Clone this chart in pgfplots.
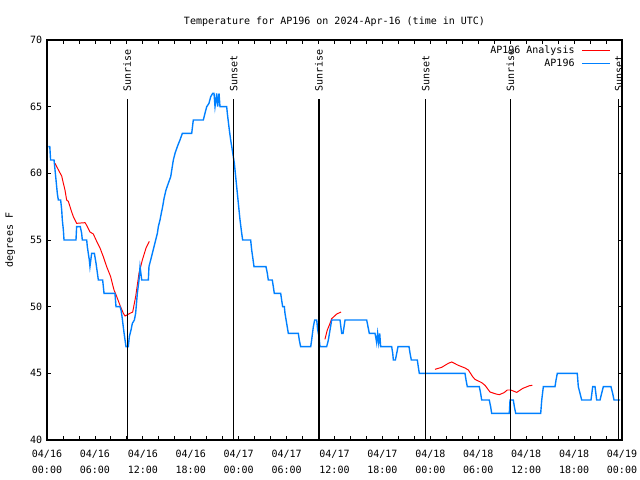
\documentclass[border=0pt]{standalone}
\usepackage{pgfplots}
\pgfplotsset{compat=1.18}
\usepackage{fontspec}
\setmainfont{DejaVu Sans Mono}
\definecolor{obsblue}{RGB}{0,128,255}
\begin{document}
\begin{tikzpicture}[font=\fontsize{7.2}{9}\selectfont]
\useasboundingbox (0,0) rectangle (460.8pt,345.6pt);
\begin{axis}[
  at={(33.84pt,28.8pt)}, anchor=south west,
  scale only axis, width=414pt, height=288pt,
  xmin=0, xmax=72, ymin=40, ymax=70,
  xtick={0,6,...,72}, minor x tick num=2,
  xticklabels={{04/16\\00:00},{04/16\\06:00},{04/16\\12:00},{04/16\\18:00},{04/17\\00:00},{04/17\\06:00},{04/17\\12:00},{04/17\\18:00},{04/18\\00:00},{04/18\\06:00},{04/18\\12:00},{04/18\\18:00},{04/19\\00:00}},
  ytick={40,45,...,70},
  tick align=inside, major tick length=3pt, minor tick length=3pt,
  tick style={black, line width=0.6pt},
  axis line style={black, line width=0.8pt},
  xticklabel style={align=center, font=\fontsize{7.2}{11.2}\selectfont, yshift=-4pt},
  yticklabel style={font=\fontsize{7.2}{9}\selectfont},
  /pgf/number format/assume math mode=true,
  title={Temperature for AP196 on 2024-Apr-16 (time in UTC)},
  title style={at={(0.5,1.025)}, anchor=center, yshift=0pt, font=\fontsize{7.2}{9}\selectfont},
  ylabel={degrees F},
  ylabel style={at={(-0.0643,0.5)}, anchor=center, font=\fontsize{7.2}{9}\selectfont},
  legend style={draw=none, fill=none, at={(0.988,1.0)}, anchor=north east,
    font=\fontsize{7.2}{9}\selectfont, row sep=-1.5pt, column sep=3pt},
  legend cell align=right, legend plot pos=right,
  legend image code/.code={\draw[#1] (0pt,0pt) -- (20pt,0pt);},
]
\addplot[red, line width=0.7pt] coordinates {
(1.0,60.75)(1.54,60.13)(1.84,59.8)(2.05,59.25)(2.25,58.75)(2.46,58)(2.67,57.9)(2.88,57.5)(3.09,57.1)(3.3,56.75)(3.71,56.25)(4.76,56.3)(4.97,56.1)(5.38,55.6)(5.8,55.45)(6.22,54.9)(6.64,54.4)(7.05,53.75)(7.47,53)(7.97,52.25)(8.39,51.25)(8.64,50.9)(9.14,50.1)(9.56,49.5)(9.77,49.3)(10.39,49.5)(10.73,49.6)(11.1,50.75)(11.52,52.5)(11.94,53.5)(12.4,54.4)(12.81,54.9)
};
\addlegendentry{AP196 Analysis}
\addplot[red, line width=0.7pt, forget plot] coordinates {
(34.8,47.55)(35.1,48.25)(35.44,48.75)(35.65,49.1)(36.28,49.45)(36.82,49.6)
};
\addplot[red, line width=0.7pt, forget plot] coordinates {
(48.58,45.3)(49.42,45.45)(50.25,45.75)(50.68,45.85)(51.5,45.6)(52.34,45.4)(52.76,45.25)(53.3,44.75)(53.59,44.55)(54.43,44.3)(54.85,44.1)(55.47,43.6)(56.22,43.45)(56.64,43.4)(57.23,43.55)(57.64,43.75)(58.06,43.75)(58.82,43.57)(59.57,43.87)(60.4,44.07)(60.77,44.1)
};
\addplot[obsblue, line width=1pt] coordinates {
(0.16,62)(0.35,62)(0.45,61)(0.88,61)(1.13,59.5)(1.29,58.5)(1.42,58)(1.71,58)(1.84,57.25)(1.92,56.5)(2.05,55.75)(2.13,55)(3.63,55)(3.71,56)(4.17,56)(4.34,55.5)(4.42,55)(4.97,55)(5.05,54.5)(5.17,54)(5.3,53.5)(5.38,53)(5.59,54)(5.93,54)(6.14,53.25)(6.43,52)(6.97,52)(7.14,51)(8.51,51)(8.64,50)(9.14,50)(9.27,49.75)(9.43,49.1)(9.6,48.25)(9.77,47.5)(9.89,47)(10.18,47)(10.31,47.75)(10.52,48.25)(10.69,48.75)(10.94,49)(11.1,49.5)(11.31,51)(11.52,52)(11.65,53)(11.86,52)(12.69,52)(12.77,53)(12.98,53.5)(13.19,54)(13.4,54.5)(13.61,55)(13.82,55.5)(13.94,56)(14.15,56.5)(14.31,57)(14.48,57.5)(14.65,58.1)(14.9,58.75)(15.19,59.25)(15.49,59.75)(15.82,61)(16.03,61.5)(16.32,62)(16.65,62.5)(16.95,63)(18.12,63)(18.32,64)(19.57,64)(19.78,64.5)(20.0,65)(20.28,65.25)(20.5,65.75)(20.75,66)(20.91,66)(21.04,65)(21.25,66)(21.37,65)(21.54,66)(21.66,65)(22.5,65)(22.58,64.5)(22.83,63.25)(23.0,62.5)(23.2,61.75)(23.46,60.75)(23.75,59)(23.96,57.75)(24.17,56.5)(24.38,55.5)(24.5,55)(25.5,55)(25.63,54.25)(25.75,53.75)(25.92,53)(27.42,53)(27.59,52.5)(27.71,52)(28.21,52)(28.34,51.5)(28.46,51)(29.26,51)(29.38,50.5)(29.51,50)(29.72,50)(29.8,49.5)(30.01,48.75)(30.22,48)(31.47,48)(31.59,47.5)(31.76,47)(33.02,47)(33.14,47.5)(33.35,48.5)(33.52,49)(33.77,49)(33.9,48.25)(34.06,47.75)(34.18,47)(35.02,47)(35.23,47.5)(35.44,48.25)(35.65,49)(36.69,49)(36.9,48)(37.07,48)(37.32,49)(40.03,49)(40.16,48.6)(40.36,48)(41.07,48)(41.2,47.6)(41.28,47.3)(41.4,48)(41.53,47.3)(41.66,48)(41.78,47)(43.16,47)(43.29,46.5)(43.37,46)(43.62,46)(43.79,46.5)(43.95,47)(45.33,47)(45.46,46.5)(45.62,46)(46.37,46)(46.49,45.5)(46.62,45)(52.34,45)(52.47,44.5)(52.63,44)(54.13,44)(54.3,43.5)(54.43,43)(55.38,43)(55.55,42.5)(55.68,42)(57.89,42)(57.98,43)(58.39,43)(58.52,42.5)(58.69,42)(61.82,42)(61.95,43)(62.15,44)(63.61,44)(63.74,44.5)(63.9,45)(66.4,45)(66.53,44)(66.74,43.5)(66.95,43)(68.12,43)(68.33,44)(68.62,44)(68.83,43)(69.25,43)(69.45,43.5)(69.66,44)(70.62,44)(70.83,43.5)(71.0,43)(71.75,43)
};
\addlegendentry{AP196}
\addplot[black, line width=0.8pt, forget plot] coordinates {(10.05,40)(10.05,65.6)};
\addplot[black, line width=0.8pt, forget plot] coordinates {(23.38,40)(23.38,65.6)};
\addplot[black, line width=0.8pt, forget plot] coordinates {(34.06,40)(34.06,65.6)};
\addplot[black, line width=0.8pt, forget plot] coordinates {(47.42,40)(47.42,65.6)};
\addplot[black, line width=0.8pt, forget plot] coordinates {(58.02,40)(58.02,65.6)};
\addplot[black, line width=0.8pt, forget plot] coordinates {(71.6,40)(71.6,65.6)};
\node[rotate=90, anchor=west, inner sep=0pt] at (axis cs:10.05,66.1) {Sunrise};
\node[rotate=90, anchor=west, inner sep=0pt] at (axis cs:23.38,66.1) {Sunset};
\node[rotate=90, anchor=west, inner sep=0pt] at (axis cs:34.06,66.1) {Sunrise};
\node[rotate=90, anchor=west, inner sep=0pt] at (axis cs:47.42,66.1) {Sunset};
\node[rotate=90, anchor=west, inner sep=0pt] at (axis cs:58.02,66.1) {Sunrise};
\node[rotate=90, anchor=west, inner sep=0pt] at (axis cs:71.6,66.1) {Sunset};
\end{axis}
\end{tikzpicture}
\end{document}
